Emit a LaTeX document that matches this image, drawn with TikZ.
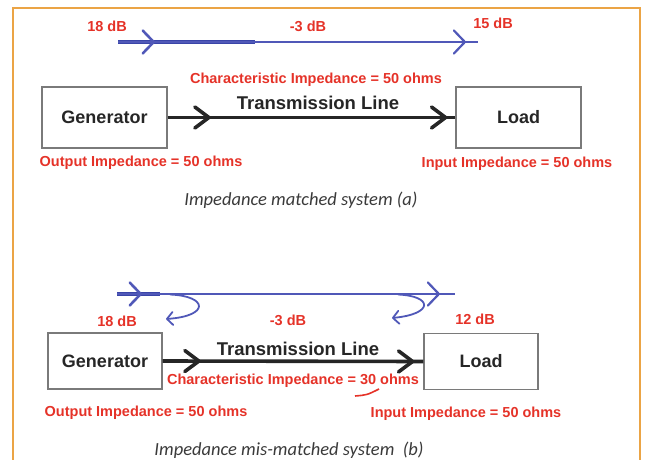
\documentclass[tikz,border=0pt]{standalone}
\usepackage{fontspec}
\setmainfont{Liberation Sans}
\newfontfamily\capfont{Carlito}
\usepackage{tikz}
\usetikzlibrary{arrows.meta}
\usetikzlibrary{decorations.markings}
\definecolor{framebrd}{HTML}{EBA445}
\definecolor{labred}{HTML}{E53228}
\definecolor{sigblue}{HTML}{5058B8}
\definecolor{sigdark}{HTML}{3A45A8}
\definecolor{boxgray}{HTML}{7A7A7A}
\definecolor{darktext}{HTML}{262626}
\definecolor{capgray}{HTML}{3A3A3A}

\begin{document}
\begin{tikzpicture}[x=1pt,y=-1pt,
        box/.style={draw=boxgray,line width=1.3pt,inner sep=0pt,text=darktext,
            font=\bfseries\fontsize{18}{20}\selectfont},
        bigbox/.style={box,minimum width=125pt,minimum height=61pt},
        smallbox/.style={box,minimum width=114pt,minimum height=56pt},
        lbl/.style={text=labred,inner sep=0pt,font=\bfseries\fontsize{14.5}{16}\selectfont},
        title/.style={text=darktext,inner sep=0pt,font=\bfseries\fontsize{18.5}{20}\selectfont},
        captxt/.style={text=capgray,inner sep=0pt,font=\capfont\itshape\fontsize{18.5}{20}\selectfont},
        tline/.style 2 args={draw=darktext,line width=3.6pt,postaction={decorate},
            decoration={markings,
                mark=at position #1 with {\arrow{Straight Barb[length=14pt,width=21pt,line width=3.6pt,round]}},
                mark=at position #2 with {\arrow{Straight Barb[length=14pt,width=21pt,line width=3.6pt,round]}}}},
        sig/.style 2 args={draw=sigblue,line width=2pt,postaction={decorate},
            decoration={markings,
                mark=at position #1 with {\arrow{Straight Barb[length=11pt,width=23pt,line width=2.6pt,round]}},
                mark=at position #2 with {\arrow{Straight Barb[length=11pt,width=23pt,line width=2.2pt,round]}}}},
        hook/.style={draw=sigblue,line width=1.8pt,-{Straight Barb[length=6pt,width=13pt,round]}}]
            \useasboundingbox (0,0) rectangle (646,460);
            \draw[framebrd,line width=2pt] (13,462) -- (13,8) -- (640,8) -- (640,462);

            \coordinate (sa) at (118,42);
            \coordinate (ma) at (255,42);
            \coordinate (ea) at (478,42);
            \draw[sigdark,line width=3.5pt] (sa) -- (ma);
            \draw[sig={37pt}{-12pt}] (sa) -- (ea);
            \node[lbl] (dba1) at (107,26) {18 dB};
            \node[lbl] (dba2) at (308,26) {-3 dB};
            \node[lbl] (dba3) at (493,23) {15 dB};

            \node[bigbox] (gena) at (104.5,117.5) {Generator};
            \node[bigbox] (loada) at (518.5,117.5) {Load};
            \draw[tline={43pt}{-8pt}] (gena.east) -- (loada.west);
            \node[lbl] (chara) at (316,80) {Characteristic Impedance = 50 ohms};
            \node[title] (tla) at (318,103) {Transmission Line};
            \node[lbl] (outa) at (141,163) {Output Impedance = 50 ohms};
            \node[lbl] (ina) at (517,164) {Input Impedance = 50 ohms};
            \node[captxt] (capa) at (301,200) {Impedance matched system (a)};

            \coordinate (sb) at (117,294);
            \coordinate (mb) at (160,294);
            \coordinate (eb) at (455,294);
            \draw[sigdark,line width=3.5pt] (sb) -- (mb);
            \draw[sig={25pt}{-15pt}] (sb) -- (eb);
            \coordinate (hb1) at (170,294.5);
            \coordinate (hb2) at (398,294.5);
            \draw[hook] (hb1) .. controls (208,296) and (210,316) .. (166,319);
            \draw[hook] (hb2) .. controls (433,296) and (434,314) .. (392,318);
            \node[lbl] (dbb1) at (117,321) {18 dB};
            \node[lbl] (dbb2) at (288,320) {-3 dB};
            \node[lbl] (dbb3) at (475,319) {12 dB};

            \node[smallbox] (genb) at (105,361) {Generator};
            \node[smallbox] (loadb) at (481,361.5) {Load};
            \draw[tline={38pt}{-9pt}] (genb.east) -- (loadb.west);
            \node[title] (tlb) at (298,349) {Transmission Line};
            \node[lbl] (charb) at (293,381) {Characteristic Impedance = 30 ohms};
            \draw[labred,line width=1.6pt] (355,396) .. controls (367,395) .. (379,389);
            \node[lbl] (outb) at (146,413) {Output Impedance = 50 ohms};
            \node[lbl] (inb) at (466,414) {Input Impedance = 50 ohms};
            \node[captxt] (capb) at (289,450) {Impedance mis-matched system\ \ (b)};
        \end{tikzpicture}
\end{document}
